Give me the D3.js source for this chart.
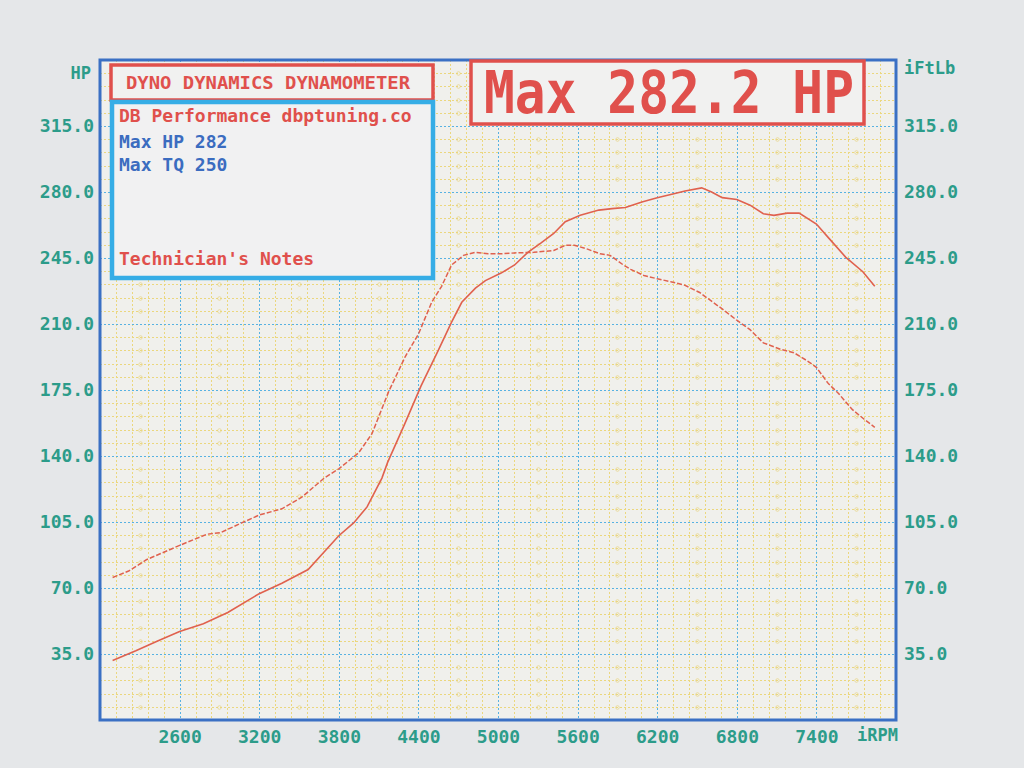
<!DOCTYPE html>
<html>
<head>
<meta charset="utf-8">
<script src="https://cdn.jsdelivr.net/npm/d3@7"></script>
<style>
  html, body { margin: 0; padding: 0; background: #e5e7e9; }
  svg { display: block; }
</style>
</head>
<body>
<svg id="chart" width="1024" height="768"></svg>
<script>
// ---------- DATA ----------
const rpmTicks = [2600, 3200, 3800, 4400, 5000, 5600, 6200, 6800, 7400];
const valueTicks = [35, 70, 105, 140, 175, 210, 245, 280, 315];

const hpRpm = [2095, 2270, 2430, 2600, 2779, 2963, 3200, 3371, 3569, 3800, 3912, 4013, 4125, 4168, 4297, 4420, 4548, 4650, 4727, 4830, 4905, 5023, 5125, 5225, 5325, 5420, 5507, 5620, 5760, 5860, 5960, 6085, 6200, 6310, 6410, 6535, 6610, 6690, 6800, 6900, 7000, 7080, 7180, 7270, 7400, 7500, 7620, 7750, 7840];
const hpValues = [31.6, 36.7, 41.8, 46.9, 51.1, 57.0, 67.0, 72.5, 79.8, 97.7, 104.5, 113.0, 128.3, 136.6, 157.0, 177.2, 195.8, 211.0, 221.5, 229.0, 233.0, 237.0, 241.3, 248.0, 253.0, 258.0, 264.2, 267.7, 270.4, 271.2, 271.8, 274.7, 277.0, 278.8, 280.5, 282.2, 280.0, 277.0, 276.0, 273.0, 268.5, 267.6, 268.8, 268.8, 263.0, 255.0, 245.5, 237.7, 230.0];

const tqRpm = [2095, 2216, 2350, 2600, 2805, 2910, 3068, 3200, 3371, 3518, 3690, 3800, 3950, 4050, 4175, 4300, 4400, 4500, 4575, 4650, 4740, 4830, 4925, 5023, 5125, 5270, 5420, 5510, 5575, 5675, 5770, 5845, 5945, 6000, 6100, 6200, 6310, 6410, 6520, 6680, 6800, 6900, 7000, 7130, 7230, 7330, 7400, 7490, 7565, 7670, 7760, 7840];
const tqValues = [75.6, 79.0, 85.0, 92.6, 98.5, 99.4, 104.5, 108.7, 112.0, 118.0, 128.3, 133.2, 141.7, 151.8, 174.0, 192.6, 204.6, 221.5, 230.0, 241.3, 246.4, 248.0, 247.2, 247.2, 247.7, 248.0, 249.0, 251.8, 251.8, 249.7, 247.2, 246.4, 241.3, 239.0, 235.7, 234.0, 232.3, 230.5, 226.7, 218.5, 212.0, 207.0, 200.0, 196.6, 194.8, 190.5, 187.0, 178.4, 173.3, 164.7, 159.5, 155.2];

const headerTitle = "DYNO DYNAMICS DYNAMOMETER";
const infoLines = ["DB Performance dbptuning.co", "Max HP 282", "Max TQ 250"];
const notesLabel = "Technician's Notes";
const bigTitle = "Max 282.2 HP";
const leftUnit = "HP", rightUnit = "iFtLb", xUnit = "iRPM";

// ---------- LAYOUT ----------
const svg = d3.select("#chart");
const L = 100, R = 896, T = 60, B = 720;
const x = d3.scaleLinear().domain([2000, 8000]).range([L, R]);
const y = d3.scaleLinear().domain([0, 350]).range([B, T]);
const px = v => Math.round(x(v)) + 0.5;
const py = v => Math.round(y(v)) + 0.5;

const FONT = "'DejaVu Sans Mono', 'Liberation Mono', monospace";
const TEAL = "#2c9c8a";
const RED = "#e0504c";
const CURVE = "#e0614e";

// plot background
svg.append("rect").attr("x", L).attr("y", T).attr("width", R - L).attr("height", B - T)
  .attr("fill", "#f0f0ec");

// minor grid (yellow dotted)
const minorX = d3.range(2000, 8001, 120).filter(v => v % 600 !== 200);
const minorY = d3.range(0, 351, 7).filter(v => v % 35 !== 0);
const grid = svg.append("g");
grid.selectAll("line.mx").data(minorX).join("line")
  .attr("x1", px).attr("x2", px).attr("y1", T).attr("y2", B)
  .attr("stroke", "#ebd77e").attr("stroke-width", 1).attr("stroke-dasharray", "2,2");
grid.selectAll("line.my").data(minorY).join("line")
  .attr("x1", L).attr("x2", R).attr("y1", py).attr("y2", py)
  .attr("stroke", "#ebd77e").attr("stroke-width", 1).attr("stroke-dasharray", "2,2");

// small circles on the yellow grid
const midX = rpmTicks.map(v => v - 300).concat([7700]);
const circ = [];
midX.forEach(mx => minorY.forEach(my => circ.push([mx, my])));
grid.selectAll("circle.c").data(circ).join("circle")
  .attr("cx", d => px(d[0])).attr("cy", d => py(d[1])).attr("r", 1.8)
  .attr("fill", "none").attr("stroke", "#e6d27a").attr("stroke-width", 0.8).attr("opacity", 0.8);

// major grid (blue dotted)
grid.selectAll("line.Mx").data(rpmTicks).join("line")
  .attr("x1", px).attr("x2", px).attr("y1", T).attr("y2", B)
  .attr("stroke", "#58b2e2").attr("stroke-width", 1).attr("stroke-dasharray", "2,2");
grid.selectAll("line.My").data(valueTicks).join("line")
  .attr("x1", L).attr("x2", R).attr("y1", py).attr("y2", py)
  .attr("stroke", "#58b2e2").attr("stroke-width", 1).attr("stroke-dasharray", "2,2");

// plot border
svg.append("rect").attr("x", L).attr("y", T).attr("width", R - L).attr("height", B - T)
  .attr("fill", "none").attr("stroke", "#3a70c4").attr("stroke-width", 3);

// axes
const fmt = d3.format(".1f");
const axL = svg.append("g").attr("transform", `translate(${L - 6},0)`)
  .call(d3.axisLeft(y).tickValues(valueTicks).tickFormat(fmt).tickSize(0).tickPadding(0));
const axR = svg.append("g").attr("transform", `translate(${R + 8},0)`)
  .call(d3.axisRight(y).tickValues(valueTicks).tickFormat(fmt).tickSize(0).tickPadding(0));
const axB = svg.append("g").attr("transform", `translate(0,${B + 6})`)
  .call(d3.axisBottom(x).tickValues(rpmTicks).tickFormat(d3.format("d")).tickSize(0).tickPadding(0));
[axL, axR, axB].forEach(a => {
  a.select(".domain").remove();
  a.selectAll("text").attr("fill", TEAL).attr("font-family", FONT)
    .attr("font-size", 18).attr("font-weight", "bold");
});
axB.selectAll("text").attr("dy", "0.95em");

svg.append("text").attr("x", 91).attr("y", 79).attr("text-anchor", "end")
  .attr("fill", TEAL).attr("font-family", FONT).attr("font-size", 17).attr("font-weight", "bold").text(leftUnit);
svg.append("text").attr("x", 904).attr("y", 74)
  .attr("fill", TEAL).attr("font-family", FONT).attr("font-size", 17).attr("font-weight", "bold").text(rightUnit);
svg.append("text").attr("x", 857).attr("y", 741)
  .attr("fill", TEAL).attr("font-family", FONT).attr("font-size", 17).attr("font-weight", "bold").text(xUnit);

// curves
const hpData = hpRpm.map((r, i) => [r, hpValues[i]]);
const tqData = tqRpm.map((r, i) => [r, tqValues[i]]);
const line = d3.line().x(d => x(d[0])).y(d => y(d[1])).curve(d3.curveLinear);
svg.append("path").datum(tqData).attr("d", line).attr("fill", "none")
  .attr("stroke", CURVE).attr("stroke-width", 1.5).attr("stroke-dasharray", "5,2");
svg.append("path").datum(hpData).attr("d", line).attr("fill", "none")
  .attr("stroke", CURVE).attr("stroke-width", 1.6);

// header box
svg.append("rect").attr("x", 111).attr("y", 65).attr("width", 322).attr("height", 35)
  .attr("fill", "#f1f1f0").attr("stroke", RED).attr("stroke-width", 3.5);
svg.append("text").attr("x", 268).attr("y", 89).attr("text-anchor", "middle")
  .attr("fill", RED).attr("font-family", FONT).attr("font-size", 18).attr("font-weight", "bold")
  .attr("textLength", 284).attr("lengthAdjust", "spacingAndGlyphs").text(headerTitle);

// info box
svg.append("rect").attr("x", 112).attr("y", 102).attr("width", 321).attr("height", 176)
  .attr("fill", "#f1f1f2").attr("stroke", "#36ade6").attr("stroke-width", 4.5);
const infoY = [122, 148, 171];
const infoColor = [RED, "#3b6cc0", "#3b6cc0"];
infoLines.forEach((t, i) => {
  svg.append("text").attr("x", 119).attr("y", infoY[i])
    .attr("fill", infoColor[i]).attr("font-family", FONT).attr("font-size", 18).attr("font-weight", "bold")
    .text(t);
});
svg.append("text").attr("x", 119).attr("y", 265)
  .attr("fill", RED).attr("font-family", FONT).attr("font-size", 18).attr("font-weight", "bold")
  .text(notesLabel);

// big title box
svg.append("rect").attr("x", 471).attr("y", 61).attr("width", 393).attr("height", 63)
  .attr("fill", "#f1f1f0").attr("stroke", RED).attr("stroke-width", 3.5);
svg.append("text").attr("x", 484).attr("y", 113)
  .attr("fill", RED).attr("font-family", FONT).attr("font-size", 58).attr("font-weight", "bold")
  .attr("textLength", 370).attr("lengthAdjust", "spacingAndGlyphs").text(bigTitle);
</script>
</body>
</html>
